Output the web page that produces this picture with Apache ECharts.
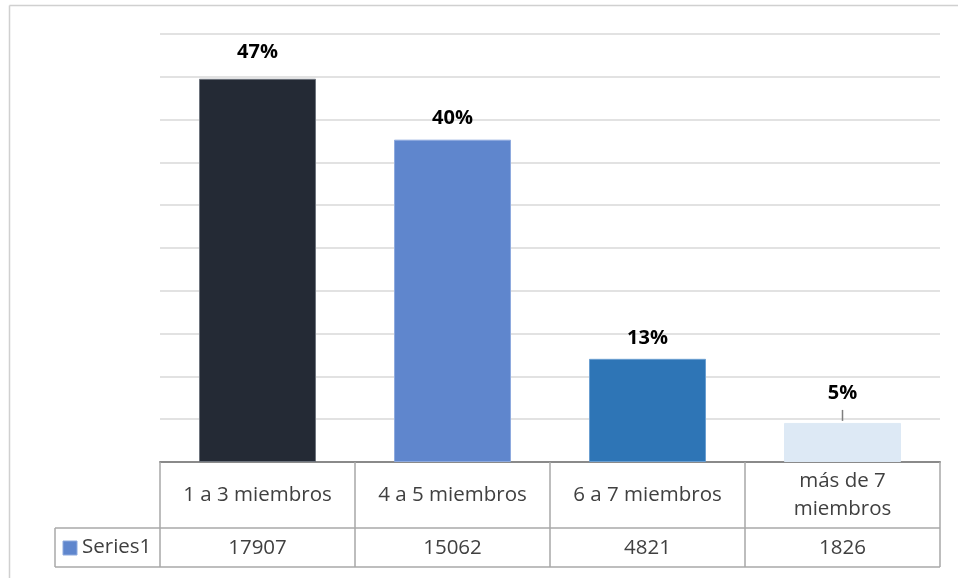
<!DOCTYPE html>
<html>
<head>
<meta charset="utf-8">
<title>Miembros por hogar</title>
<script src="https://cdn.jsdelivr.net/npm/echarts@6/dist/echarts.min.js"></script>
<style>
  html, body { margin: 0; padding: 0; background: #ffffff; }
  #chart { width: 958px; height: 578px; }
</style>
</head>
<body>
<div id="chart"></div>
<script>
// Household size groups and their counts
const categories = ['1 a 3 miembros', '4 a 5 miembros', '6 a 7 miembros', 'más de 7\nmiembros'];
const counts = [17907, 15062, 4821, 1826];
const pctLabels = ['47%', '40%', '13%', '5%'];
const seriesName = 'Series1';

// Per-bar styling
const barColors = ['#242a35', '#5f86cd', '#2e75b6', '#dde9f5'];
const barBorders = ['#6e747d', '#8eaade', '#6b9fd1', '#dde9f5'];
const labelGaps = [16, 11, 11, 20];

const FONT = '"Open Sans", "Noto Sans", sans-serif';
const TEXT = '#404040';
const TABLE_LINE = '#a8a8a8';

const chart = echarts.init(document.getElementById('chart'), null, { renderer: 'canvas' });

const GRID = { left: 160, right: 18, top: 34, bottom: 116 };
const TABLE_TOP = 462, ROW2_TOP = 528, TABLE_BOTTOM = 567, KEY_LEFT = 55;

const option = {
  animation: false,
  backgroundColor: '#ffffff',
  grid: GRID,
  xAxis: [
    {
      type: 'category',
      data: categories,
      position: 'bottom',
      axisLine: { show: true, lineStyle: { color: '#8a8a8a', width: 2 } },
      axisTick: {
        show: true, inside: false, length: TABLE_BOTTOM - TABLE_TOP,
        lineStyle: { color: TABLE_LINE, width: 1.5 }
      },
      axisLabel: {
        margin: 33, verticalAlign: 'middle', interval: 0,
        color: TEXT, fontFamily: FONT, fontSize: 20.5, lineHeight: 28, align: 'center'
      },
      splitLine: { show: false }
    },
    {
      type: 'category',
      data: categories,
      position: 'bottom',
      axisLine: { show: false },
      axisTick: { show: false },
      axisLabel: {
        margin: 86, verticalAlign: 'middle', interval: 0,
        color: TEXT, fontFamily: FONT, fontSize: 20.5,
        formatter: (v, i) => String(counts[i])
      },
      splitLine: { show: false }
    }
  ],
  yAxis: {
    type: 'value',
    min: 0, max: 20000, interval: 2000,
    axisLine: { show: false },
    axisTick: { show: false },
    axisLabel: { show: false },
    splitLine: { lineStyle: { color: '#d9d9d9', width: 1.5 } }
  },
  series: [{
    name: seriesName,
    type: 'bar',
    xAxisIndex: 0,
    barWidth: '60%',
    data: counts.map((v, i) => ({
      value: v,
      itemStyle: { color: barColors[i], borderColor: barBorders[i], borderWidth: 1 },
      label: { distance: labelGaps[i] }
    })),
    label: {
      show: true,
      position: 'top',
      formatter: p => pctLabels[p.dataIndex],
      color: '#000000',
      fontFamily: FONT,
      fontWeight: 'bold',
      fontSize: 20
    }
  }]
};

chart.setOption(option);

// Table frame, legend key cell, outer border and the leader line on the last label
function drawExtras() {
  const right = 958 - GRID.right;
  const lastIdx = counts.length - 1;
  const top = chart.convertToPixel({ gridIndex: 0 }, [lastIdx, counts[lastIdx]]);
  const line = (x1, y1, x2, y2, color, w) => ({
    type: 'line', silent: true,
    shape: { x1, y1, x2, y2 },
    style: { stroke: color, lineWidth: w }
  });
  chart.setOption({
    graphic: [
      // outer chart border
      line(9.5, 5.5, 958, 5.5, '#d0d0d0', 1.5),
      line(9.5, 5.5, 9.5, 578, '#d0d0d0', 1.5),
      // table rows
      line(GRID.left, ROW2_TOP, right, ROW2_TOP, TABLE_LINE, 1.5),
      line(KEY_LEFT, ROW2_TOP, GRID.left, ROW2_TOP, TABLE_LINE, 1.5),
      line(KEY_LEFT, TABLE_BOTTOM, right, TABLE_BOTTOM, TABLE_LINE, 1.5),
      line(KEY_LEFT, ROW2_TOP, KEY_LEFT, TABLE_BOTTOM, TABLE_LINE, 1.5),
      // legend key inside the table
      {
        type: 'rect', silent: true,
        shape: { x: 63, y: 541, width: 14, height: 14 },
        style: { fill: barColors[1], stroke: '#8eaade', lineWidth: 1 }
      },
      {
        type: 'text', silent: true,
        style: {
          x: 82, y: (ROW2_TOP + TABLE_BOTTOM) / 2, text: seriesName,
          fill: TEXT, font: '20.5px ' + FONT, verticalAlign: 'middle', align: 'left'
        }
      },
      // short leader from the small bar to its label
      line(top[0], top[1] - 13, top[0], top[1] - 2, '#7f7f7f', 1.5)
    ]
  });
}
drawExtras();
</script>
</body>
</html>
